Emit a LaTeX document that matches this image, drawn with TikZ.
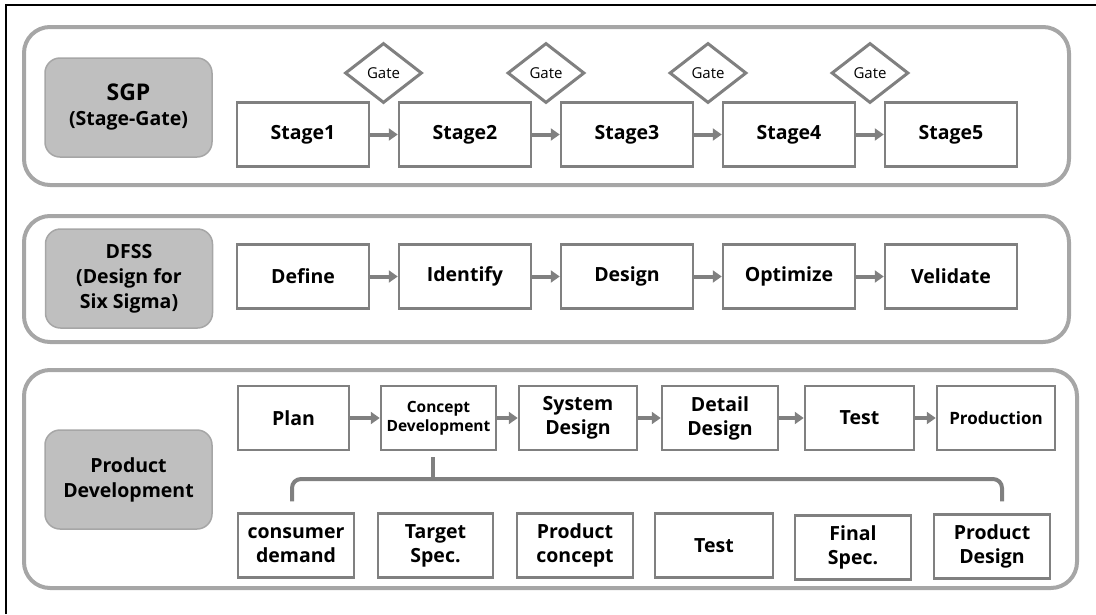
\documentclass[tikz,border=0pt]{standalone}
\usepackage{fontspec}
\setmainfont{Open Sans}[BoldFont={* Bold}]
\usetikzlibrary{arrows.meta,shapes.geometric,calc}
\definecolor{panelgray}{HTML}{A6A6A6}
\definecolor{boxgray}{HTML}{808080}
\definecolor{titlefill}{HTML}{BFBFBF}
\begin{document}
\begin{tikzpicture}[x=1pt,y=-1pt,
  panel/.style={draw=panelgray, line width=4pt, rounded corners=26pt},
  titlebox/.style={draw=panelgray, line width=1.5pt, fill=titlefill, rounded corners=15pt,
    minimum width=167pt, minimum height=99pt, align=center, inner sep=0pt,
    font=\bfseries\fontsize{19.5}{25}\selectfont},
  stepbox/.style={draw=boxgray, line width=2.5pt, fill=white, minimum height=64pt,
    align=center, inner sep=0pt, font=\bfseries\fontsize{19.5}{24}\selectfont},
  gate/.style={draw=boxgray, line width=3pt, fill=white, diamond, aspect=1.28,
    minimum width=77pt, minimum height=60pt, inner sep=0pt, font=\fontsize{15}{18}\selectfont},
  flow/.style={draw=boxgray, line width=4pt, -{Triangle[length=9pt,width=12pt]}},
  brace/.style={draw=boxgray, line width=4pt}
]
\useasboundingbox (0,0) rectangle (1096,614);
\draw[black, line width=1.5pt] (6,614) -- (6,5) -- (1096,5);

% panels
\draw[panel] (24,27) rectangle (1069,185);
\draw[panel] (24,216) rectangle (1069,342);
\draw[panel] (24,370) rectangle (1077,588);

% titles
\node[titlebox] (sgp) at (128.5,107.5) {{\fontsize{23}{28}\selectfont SGP}\\(Stage-Gate)};
\node[titlebox] (dfss) at (129,278.5) {DFSS\\(Design for\\Six Sigma)};
\node[titlebox] (pd) at (128.5,479.5) {Product\\Development};

% SGP row
\foreach \i/\x in {1/303,2/465,3/627,4/789,5/951}
  \node[stepbox, minimum width=132pt] (s\i) at (\x,134.5) {Stage\i};
\foreach \i/\x in {1/383.5,2/546,3/708,4/870}
  \node[gate] (g\i) at (\x,73) {Gate};
\foreach \a/\b in {s1/s2,s2/s3,s3/s4,s4/s5}
  \draw[flow] (\a) -- (\b);

% DFSS row
\node[stepbox, minimum width=132pt] (d1) at (303,276.5) {Define};
\node[stepbox, minimum width=132pt] (d2) at (465,276.5) {Identify};
\node[stepbox, minimum width=132pt] (d3) at (627,276.5) {Design};
\node[stepbox, minimum width=132pt] (d4) at (789,276.5) {Optimize};
\node[stepbox, minimum width=132pt] (d5) at (951,276.5) {Velidate};
\foreach \a/\b in {d1/d2,d2/d3,d3/d4,d4/d5}
  \draw[flow] (\a) -- (\b);

% Product development top row
\node[stepbox, minimum width=111pt] (p1) at (293.5,418) {Plan};
\node[stepbox, minimum width=115pt, font=\bfseries\fontsize{15.5}{19}\selectfont] (p2) at (438.5,418) {Concept\\Development};
\node[stepbox, minimum width=118pt] (p3) at (578,418) {System\\Design};
\node[stepbox, minimum width=116pt] (p4) at (720,418) {Detail\\Design};
\node[stepbox, minimum width=109pt] (p5) at (859.5,418) {Test};
\node[stepbox, minimum width=118pt, font=\bfseries\fontsize{17}{20}\selectfont] (p6) at (996,418) {Production};
\foreach \a/\b in {p1/p2,p2/p3,p3/p4,p4/p5,p5/p6}
  \draw[flow] (\a) -- (\b);

% bottom row
\node[stepbox, minimum width=116pt] (b1) at (296,545.5) {consumer\\demand};
\node[stepbox, minimum width=115pt] (b2) at (435.5,545.5) {Target\\Spec.};
\node[stepbox, minimum width=116pt] (b3) at (575,545.5) {Product\\concept};
\node[stepbox, minimum width=118pt] (b4) at (714,545.5) {Test};
\node[stepbox, minimum width=116pt] (b5) at (853,547.5) {Final\\Spec.};
\node[stepbox, minimum width=116pt] (b6) at (992,546.5) {Product\\Design};

% brace
\coordinate (bl) at ($(b1.north)+(-4,-11)$);
\coordinate (br) at ($(b6.north)+(10,-12)$);
\draw[brace, rounded corners=9pt] (bl) -- (bl |- 0,479) -- (br |- 0,479) -- (br);
\draw[brace] ($(p2.south)+(-6,6)$) -- ($(p2.south)+(-6,29)$);
\end{tikzpicture}
\end{document}
